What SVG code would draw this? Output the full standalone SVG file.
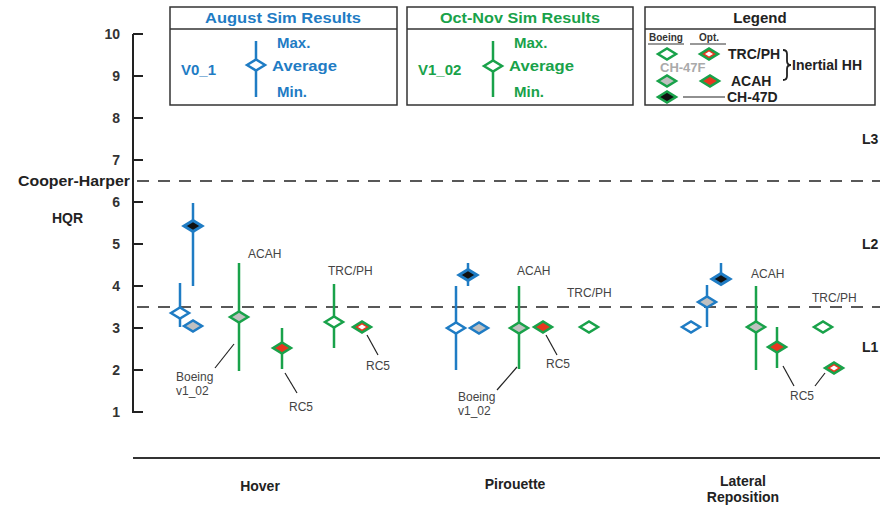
<svg xmlns="http://www.w3.org/2000/svg" xmlns:xlink="http://www.w3.org/1999/xlink" width="880" height="507" viewBox="0 0 880 507">
<style>
.ax{stroke:#222;stroke-width:2;fill:none}
.dash{stroke:#222;stroke-width:1.3;stroke-dasharray:12,9;fill:none}
.box{fill:#fff;stroke:#333;stroke-width:1.5}
.num{font-family:"Liberation Sans",Arial,sans-serif;font-weight:bold;font-size:14px;fill:#333;text-anchor:end}
.lbl{font-family:"Liberation Sans",Arial,sans-serif;font-weight:bold;font-size:14px;fill:#222}
.cat{font-family:"Liberation Sans",Arial,sans-serif;font-weight:bold;font-size:14px;fill:#222;text-anchor:middle}
.note{font-family:"Liberation Sans",Arial,sans-serif;font-size:12px;fill:#444}
.bt{font-family:"Liberation Sans",Arial,sans-serif;font-weight:bold;font-size:15px;fill:#1f7cc4}
.gt{font-family:"Liberation Sans",Arial,sans-serif;font-weight:bold;font-size:15px;fill:#19a24a}
.bbar{stroke:#1f7cc4;stroke-width:2.5}
.gbar{stroke:#19a24a;stroke-width:2.5}
.lead{stroke:#222;stroke-width:1.2}
.dbw{fill:#fff;stroke:#1f7cc4;stroke-width:2.5}
.dbk{fill:#111;stroke:#1f7cc4;stroke-width:3}
.dbg{fill:#c0c0c0;stroke:#1f7cc4;stroke-width:2.5}
.dgw{fill:#fff;stroke:#19a24a;stroke-width:2.5}
.dgg{fill:#c0c0c0;stroke:#19a24a;stroke-width:2.5}
.dgr{fill:#e8351f;stroke:#19a24a;stroke-width:2.5}
.dgk{fill:#111;stroke:#19a24a;stroke-width:2.5}
.wc{fill:#fff;stroke:none}
</style>
<defs>
<path id="d" d="M-9,0 L0,-5.5 L9,0 L0,5.5 Z"/>
<path id="ds" d="M-4,0 L0,-2.4 L4,0 L0,2.4 Z"/>
</defs>

<g id="axes">
<line class="ax" x1="133" y1="34" x2="133" y2="413"/>
<g class="ax">
<line x1="133" y1="34" x2="143" y2="34"/>
<line x1="133" y1="76" x2="143" y2="76"/>
<line x1="133" y1="118" x2="143" y2="118"/>
<line x1="133" y1="160" x2="143" y2="160"/>
<line x1="133" y1="202" x2="143" y2="202"/>
<line x1="133" y1="244" x2="143" y2="244"/>
<line x1="133" y1="286" x2="143" y2="286"/>
<line x1="133" y1="328" x2="143" y2="328"/>
<line x1="133" y1="370" x2="143" y2="370"/>
<line x1="133" y1="412" x2="143" y2="412"/>
</g>
<text class="num" x="120" y="39">10</text>
<text class="num" x="120" y="81">9</text>
<text class="num" x="120" y="123">8</text>
<text class="num" x="120" y="165">7</text>
<text class="num" x="120" y="207">6</text>
<text class="num" x="120" y="249">5</text>
<text class="num" x="120" y="291">4</text>
<text class="num" x="120" y="333">3</text>
<text class="num" x="120" y="375">2</text>
<text class="num" x="120" y="417">1</text>
<text class="lbl" x="18" y="186" textLength="112" lengthAdjust="spacingAndGlyphs">Cooper-Harper</text>
<text class="lbl" x="52" y="223">HQR</text>
<line class="dash" x1="137" y1="181" x2="880" y2="181"/>
<line class="dash" x1="137" y1="307" x2="880" y2="307"/>
<text class="lbl" x="862" y="144">L3</text>
<text class="lbl" x="862" y="249">L2</text>
<text class="lbl" x="862" y="352">L1</text>
<line x1="133" y1="458" x2="880" y2="458" stroke="#333" stroke-width="2"/>
<text class="cat" x="260" y="491">Hover</text>
<text class="cat" x="515" y="489">Pirouette</text>
<text class="cat" x="743" y="486">Lateral</text>
<text class="cat" x="743" y="502">Reposition</text>
</g>

<g id="box-august">
<rect class="box" x="170" y="7" width="227" height="98"/>
<line x1="170" y1="29" x2="397" y2="29" stroke="#333" stroke-width="1.5"/>
<text class="bt" x="283" y="23" text-anchor="middle" textLength="156" lengthAdjust="spacingAndGlyphs">August Sim Results</text>
<text class="bt" x="181" y="75">V0_1</text>
<line class="bbar" x1="256" y1="41" x2="256" y2="97"/>
<use href="#d" class="dbw" x="256" y="65"/>
<text class="bt" x="277" y="48">Max.</text>
<text class="bt" x="272" y="71" textLength="65" lengthAdjust="spacingAndGlyphs">Average</text>
<text class="bt" x="277" y="97">Min.</text>
</g>

<g id="box-octnov">
<rect class="box" x="407" y="7" width="226" height="98"/>
<line x1="407" y1="29" x2="633" y2="29" stroke="#333" stroke-width="1.5"/>
<text class="gt" x="520" y="23" text-anchor="middle" textLength="160" lengthAdjust="spacingAndGlyphs">Oct-Nov Sim Results</text>
<text class="gt" x="418" y="75">V1_02</text>
<line class="gbar" x1="493" y1="41" x2="493" y2="97"/>
<use href="#d" class="dgw" x="493" y="66"/>
<text class="gt" x="514" y="48">Max.</text>
<text class="gt" x="509" y="71" textLength="65" lengthAdjust="spacingAndGlyphs">Average</text>
<text class="gt" x="514" y="97">Min.</text>
</g>

<g id="legend">
<rect class="box" x="645" y="7" width="230" height="98"/>
<line x1="645" y1="29" x2="875" y2="29" stroke="#333" stroke-width="1.5"/>
<text x="760" y="23" text-anchor="middle" font-family="Liberation Sans, Arial, sans-serif" font-weight="bold" font-size="15" fill="#222">Legend</text>
<text x="649" y="41" font-family="Liberation Sans, Arial, sans-serif" font-weight="bold" font-size="10" fill="#333">Boeing</text>
<line x1="648" y1="44" x2="684" y2="44" stroke="#333" stroke-width="1"/>
<text x="699" y="41" font-family="Liberation Sans, Arial, sans-serif" font-weight="bold" font-size="10" fill="#333">Opt.</text>
<line x1="690" y1="44" x2="726" y2="44" stroke="#333" stroke-width="1"/>
<use href="#d" class="dgw" x="667" y="54"/>
<use href="#d" class="dgr" x="709" y="54"/>
<use href="#ds" class="wc" x="709" y="54"/>
<text class="lbl" x="728" y="59">TRC/PH</text>
<text x="660" y="72" font-family="Liberation Sans, Arial, sans-serif" font-weight="bold" font-size="13" fill="#aaaaaa">CH-47F</text>
<use href="#d" class="dgg" x="667" y="81"/>
<use href="#d" class="dgr" x="710" y="81"/>
<text class="lbl" x="731" y="86">ACAH</text>
<path d="M783,50 Q787,50 787,54 L787,61 Q787,65 791,65 Q787,65 787,69 L787,76 Q787,80 783,80" fill="none" stroke="#222" stroke-width="1.8"/>
<text class="lbl" x="792" y="70">Inertial HH</text>
<use href="#d" class="dgk" x="667" y="97"/>
<line x1="683" y1="97" x2="725" y2="97" stroke="#222" stroke-width="1.2"/>
<text class="lbl" x="727" y="102">CH-47D</text>
</g>

<g id="connectors">
<line class="lead" x1="234" y1="344" x2="215" y2="368"/>
<line class="lead" x1="285" y1="373" x2="297" y2="393"/>
<line class="lead" x1="367" y1="335" x2="378" y2="355"/>
<line class="lead" x1="546" y1="335" x2="557" y2="355"/>
<line class="lead" x1="517" y1="367" x2="497" y2="390"/>
<line class="lead" x1="783" y1="366" x2="794" y2="386"/>
<line class="lead" x1="825" y1="373" x2="815" y2="386"/>
</g>

<g id="hover">
<g id="h-ch47d"><line class="bbar" x1="193" y1="203" x2="193" y2="286"/><use href="#d" class="dbk" x="193" y="226"/></g>
<g id="h-aug-trc"><line class="bbar" x1="180" y1="283" x2="180" y2="327"/><use href="#d" class="dbw" x="180" y="313"/></g>
<g id="h-aug-acah"><use href="#d" class="dbg" x="193" y="326"/></g>
<g id="h-acah"><line class="gbar" x1="239" y1="263" x2="239" y2="371"/><use href="#d" class="dgg" x="239" y="317"/></g>
<g id="h-acah-rc5"><line class="gbar" x1="282" y1="328" x2="282" y2="369"/><use href="#d" class="dgr" x="282" y="348"/></g>
<g id="h-trc"><line class="gbar" x1="334" y1="284" x2="334" y2="348"/><use href="#d" class="dgw" x="334" y="322"/></g>
<g id="h-trc-rc5"><use href="#d" class="dgr" x="362" y="327"/><use href="#ds" class="wc" x="362" y="327"/></g>
<text class="note" x="248" y="258">ACAH</text>
<text class="note" x="328" y="275">TRC/PH</text>
<text class="note" x="176" y="381">Boeing</text>
<text class="note" x="176" y="395">v1_02</text>
<text class="note" x="289" y="411">RC5</text>
<text class="note" x="366" y="370">RC5</text>
</g>

<g id="pirouette">
<g id="p-ch47d"><line class="bbar" x1="468" y1="263" x2="468" y2="286"/><use href="#d" class="dbk" x="468" y="275"/></g>
<g id="p-aug-trc"><line class="bbar" x1="456" y1="286" x2="456" y2="370"/><use href="#d" class="dbw" x="456" y="328"/></g>
<g id="p-aug-acah"><use href="#d" class="dbg" x="479" y="328"/></g>
<g id="p-acah"><line class="gbar" x1="519" y1="286" x2="519" y2="369"/><use href="#d" class="dgg" x="519" y="328"/></g>
<g id="p-acah-rc5"><use href="#d" class="dgr" x="543" y="327"/></g>
<g id="p-trc"><use href="#d" class="dgw" x="589" y="327"/></g>
<text class="note" x="517" y="275">ACAH</text>
<text class="note" x="567" y="297">TRC/PH</text>
<text class="note" x="546" y="368">RC5</text>
<text class="note" x="458" y="401">Boeing</text>
<text class="note" x="458" y="415">v1_02</text>
</g>

<g id="lateral">
<g id="l-ch47d"><line class="bbar" x1="721" y1="263" x2="721" y2="283"/><use href="#d" class="dbk" x="721" y="279"/></g>
<g id="l-aug-acah"><line class="bbar" x1="707" y1="285" x2="707" y2="327"/><use href="#d" class="dbg" x="707" y="302"/></g>
<g id="l-aug-trc"><use href="#d" class="dbw" x="691" y="327"/></g>
<g id="l-acah"><line class="gbar" x1="756" y1="286" x2="756" y2="370"/><use href="#d" class="dgg" x="756" y="327"/></g>
<g id="l-acah-rc5"><line class="gbar" x1="777" y1="327" x2="777" y2="368"/><use href="#d" class="dgr" x="777" y="347"/></g>
<g id="l-trc"><use href="#d" class="dgw" x="823" y="327"/></g>
<g id="l-trc-rc5"><use href="#d" class="dgr" x="834" y="368"/><use href="#ds" class="wc" x="834" y="368"/></g>
<text class="note" x="751" y="278">ACAH</text>
<text class="note" x="812" y="302">TRC/PH</text>
<text class="note" x="790" y="400">RC5</text>
</g>
</svg>
